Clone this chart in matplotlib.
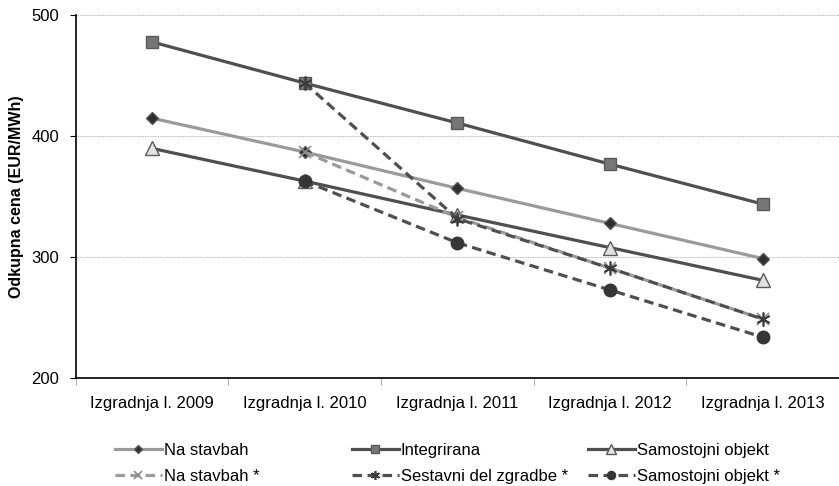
import numpy as np
import matplotlib.pyplot as plt

plt.rcParams["font.family"] = ["Liberation Sans", "DejaVu Sans"]

years = ["Izgradnja l. 2009", "Izgradnja l. 2010", "Izgradnja l. 2011",
         "Izgradnja l. 2012", "Izgradnja l. 2013"]

na_stavbah = [415, 387, 357, 328, 299]
integrirana = [478, 444, 411, 377, 344]
samostojni = [390, 363, 335, 308, 281]
na_stavbah_z = [np.nan, 387, 333, 291, 249]
sestavni_z = [np.nan, 444, 332, 291, 249]
samostojni_z = [np.nan, 363, 312, 273, 234]

dark = "#4f4f4f"
light = "#9a9a9a"

fig = plt.figure(figsize=(8.39, 4.86), dpi=100)
ax = fig.add_axes([0.0902, 0.2216, 0.9098, 0.7469])
x = np.arange(len(years))

h1, = ax.plot(x, na_stavbah, color=light, lw=2.3, marker="D", ms=6,
              mfc="#2e2e2e", mec="#555555", label="Na stavbah")
h2, = ax.plot(x, integrirana, color=dark, lw=2.3, marker="s", ms=8.5,
              mfc="#767676", mec="#5a5a5a", label="Integrirana")
h3, = ax.plot(x, samostojni, color=dark, lw=2.3, marker="^", ms=10,
              mfc="#e2e2e2", mec="#5a5a5a", label="Samostojni objekt")
h4, = ax.plot(x, na_stavbah_z, color=light, lw=2.3, ls="--", dashes=(3, 1.7),
              marker="x", ms=8, mew=1.2, mec="#8a8a8a", label="Na stavbah *")
h5, = ax.plot(x, sestavni_z, color=dark, lw=2.3, ls="--", dashes=(3, 1.7),
              marker=(6, 2, 0), ms=10, mew=1.2, mec="#3a3a3a",
              label="Sestavni del zgradbe *")
h6, = ax.plot(x, samostojni_z, color=dark, lw=2.3, ls="--", dashes=(3, 1.7),
              marker="o", ms=9, mfc="#363636", mec="#363636",
              label="Samostojni objekt *")

ax.set_xlim(-0.5, len(years) - 0.5)
ax.set_ylim(200, 500)
ax.set_yticks([200, 300, 400, 500])
ax.yaxis.grid(True, color="#a0a0a0", lw=0.6, ls=(0, (1, 1)))
ax.set_axisbelow(True)

ax.set_xticks(x)
ax.set_xticklabels(years)
ax.set_xticks(np.arange(-0.5, len(years)), minor=True)
ax.tick_params(axis="x", which="major", length=0, pad=13, labelsize=12)
ax.tick_params(axis="x", which="minor", length=5, color="#a0a0a0")
ax.tick_params(axis="y", length=4, pad=8, labelsize=12)

for side in ["top", "right"]:
    ax.spines[side].set_visible(False)
ax.spines["left"].set_linewidth(1.2)
ax.spines["bottom"].set_linewidth(1.2)

ax.set_ylabel("Odkupna cena (EUR/MWh)", fontsize=11.5, fontweight="bold",
              labelpad=5)

# three two-row legend columns under the axes
cols = [(h1, h4, 0.137), (h2, h5, 0.4195), (h3, h6, 0.701)]
for a, b, xpos in cols:
    fig.legend(handles=[a, b], loc="upper left",
               bbox_to_anchor=(xpos, 0.088), frameon=False,
               handlelength=2.8, handletextpad=0.12, borderpad=0,
               borderaxespad=0, labelspacing=0.64, fontsize=12,
               markerscale=0.65)

fig.savefig("out.png", dpi=100)
